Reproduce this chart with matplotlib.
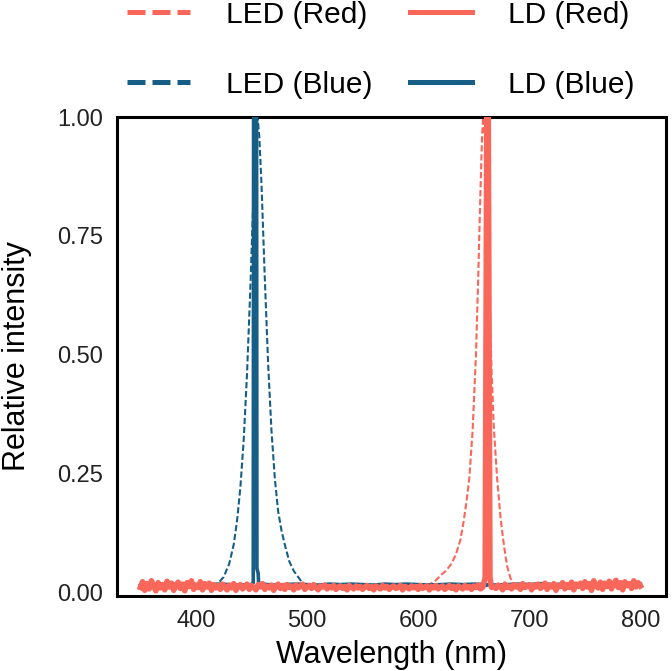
import numpy as np
import matplotlib
matplotlib.use("Agg")
import matplotlib.pyplot as plt
from matplotlib.lines import Line2D

RED = "#F9675A"
BLUE = "#165E86"

# ---------------- data ----------------
led_blue_wl = [350, 370, 390, 410, 415, 420, 425, 430, 434, 437, 440, 443, 446, 449, 452, 454,
               455.5, 457, 459, 462, 465, 468, 471, 474, 477, 480, 484, 488, 492, 496, 500,
               520, 560, 600, 640, 680, 720, 760, 800]
led_blue_int = [0.012, 0.012, 0.012, 0.012, 0.013, 0.019, 0.032, 0.06, 0.10, 0.15, 0.22, 0.32,
                0.46, 0.64, 0.85, 0.96, 1.0, 0.96, 0.86, 0.66, 0.48, 0.34, 0.24, 0.17, 0.13,
                0.10, 0.065, 0.045, 0.032, 0.019, 0.014, 0.013, 0.013, 0.013, 0.013, 0.013,
                0.013, 0.013, 0.013]

led_red_wl = [350, 400, 450, 500, 550, 600, 610, 616, 620, 625, 630, 634, 638, 641, 644, 646,
              649, 652, 654, 656, 657.5, 658.5, 660, 662, 664, 666, 668, 671, 674, 676, 678,
              680, 683, 686, 690, 700, 750, 800]
led_red_int = [0.012, 0.012, 0.012, 0.012, 0.012, 0.013, 0.016, 0.025, 0.035, 0.045, 0.06, 0.08,
               0.11, 0.15, 0.20, 0.24, 0.34, 0.50, 0.66, 0.84, 0.96, 1.0, 0.96, 0.82, 0.64,
               0.47, 0.35, 0.24, 0.16, 0.12, 0.085, 0.055, 0.03, 0.016, 0.013, 0.013, 0.013,
               0.013]

# LD (Blue): baseline every 10 nm + narrow peak
ld_blue_base_wl = list(range(350, 801, 10))
ld_blue_base_int = [0.014, 0.016, 0.015, 0.017, 0.015, 0.016, 0.014, 0.017, 0.016, 0.015,
                    0.016, 0.017, 0.015, 0.016, 0.017, 0.016, 0.015, 0.017, 0.016, 0.017,
                    0.016, 0.015, 0.017, 0.016, 0.017, 0.016, 0.015, 0.016, 0.017, 0.016,
                    0.017, 0.016, 0.015, 0.016, 0.017, 0.016, 0.018, 0.016, 0.017, 0.015,
                    0.016, 0.018, 0.016, 0.017, 0.016, 0.017]
ld_blue_peak_wl = [450.0, 451.6, 451.9, 454.6, 454.9, 456.0, 456.5]
ld_blue_peak_int = [0.016, 0.02, 1.05, 1.05, 0.05, 0.04, 0.016]

# LD (Red): noisy baseline every 2 nm + narrow peak
ld_red_base_wl = list(range(350, 801, 2))
ld_red_base_int = [
    0.010, 0.022, 0.004, 0.018, 0.007, 0.024, 0.012, 0.003, 0.020, 0.009,
    0.016, 0.005, 0.023, 0.011, 0.019, 0.004, 0.014, 0.021, 0.008, 0.017,
    0.003, 0.020, 0.012, 0.024, 0.006, 0.015, 0.010, 0.022, 0.005, 0.018,
    0.011, 0.019, 0.004, 0.016, 0.009, 0.014, 0.006, 0.017, 0.011, 0.005,
    0.015, 0.009, 0.018, 0.004, 0.013, 0.016, 0.007, 0.012, 0.017, 0.006,
    0.014, 0.010, 0.005, 0.016, 0.011, 0.018, 0.006, 0.013, 0.009, 0.015,
    0.004, 0.012, 0.017, 0.008, 0.014, 0.006, 0.016, 0.010, 0.013, 0.005,
    0.015, 0.009, 0.012, 0.017, 0.006, 0.011, 0.014, 0.008, 0.016, 0.010,
    0.005, 0.013, 0.011, 0.015, 0.007, 0.012, 0.009, 0.014, 0.006, 0.011,
    0.013, 0.008, 0.012, 0.005, 0.014, 0.010, 0.007, 0.013, 0.009, 0.012,
    0.006, 0.011, 0.014, 0.008, 0.012, 0.005, 0.013, 0.010, 0.007, 0.014,
    0.009, 0.012, 0.006, 0.011, 0.013, 0.008, 0.010, 0.014, 0.005, 0.012,
    0.010, 0.007, 0.013, 0.009, 0.012, 0.006, 0.014, 0.008, 0.011, 0.013,
    0.005, 0.012, 0.009, 0.014, 0.007, 0.011, 0.013, 0.006, 0.010, 0.014,
    0.008, 0.012, 0.005, 0.013, 0.010, 0.007, 0.014, 0.009, 0.012, 0.006,
    0.013, 0.010, 0.015, 0.007, 0.012, 0.009, 0.014, 0.006, 0.016, 0.011,
    0.008, 0.015, 0.012, 0.005, 0.017, 0.010, 0.013, 0.007, 0.016, 0.011,
    0.014, 0.006, 0.018, 0.010, 0.012, 0.016, 0.005, 0.015, 0.011, 0.017,
    0.008, 0.013, 0.019, 0.006, 0.015, 0.011, 0.018, 0.004, 0.014, 0.012,
    0.020, 0.007, 0.016, 0.010, 0.021, 0.005, 0.017, 0.012, 0.019, 0.008,
    0.022, 0.011, 0.018, 0.004, 0.024, 0.013, 0.009, 0.021, 0.006, 0.019,
    0.012, 0.023, 0.007, 0.017, 0.025, 0.010, 0.020, 0.005, 0.022, 0.014,
    0.018, 0.008, 0.024, 0.011, 0.020, 0.013]
ld_red_peak_wl = [658.0, 660.3, 661.8, 663.0, 664.6, 666.0]
ld_red_peak_int = [0.010, 0.030, 1.05, 1.05, 0.030, 0.010]

x_ticks = [400, 500, 600, 700, 800]
y_ticks = [0.0, 0.25, 0.5, 0.75, 1.0]
y_tick_labels = ["0.00", "0.25", "0.50", "0.75", "1.00"]
labels = ["LED (Red)", "LED (Blue)", "LD (Red)", "LD (Blue)"]


def merge(base_wl, base_int, peak_wl, peak_int):
    lo, hi = min(peak_wl), max(peak_wl)
    pts = [(w, v) for w, v in zip(base_wl, base_int) if w < lo or w > hi]
    pts += list(zip(peak_wl, peak_int))
    pts.sort()
    return [p[0] for p in pts], [p[1] for p in pts]


ldb_wl, ldb_int = merge(ld_blue_base_wl, ld_blue_base_int, ld_blue_peak_wl, ld_blue_peak_int)
ldr_wl, ldr_int = merge(ld_red_base_wl, ld_red_base_int, ld_red_peak_wl, ld_red_peak_int)

# ---------------- figure ----------------
plt.rcParams['font.family'] = ['Liberation Sans', 'DejaVu Sans']
fig = plt.figure(figsize=(6.72, 6.71), dpi=100)
ax = fig.add_axes([117 / 672, 1 - 596 / 671, (666 - 117) / 672, (596 - 117) / 671])

ax.plot(led_blue_wl, led_blue_int, color=BLUE, lw=1.5, dashes=(3, 1.3), zorder=2)
ax.plot(led_red_wl, led_red_int, color=RED, lw=1.5, dashes=(3, 1.3), zorder=2)
ax.plot(ldb_wl, ldb_int, color=BLUE, lw=2.6, zorder=3, solid_joinstyle='round')
ax.plot(ldr_wl, ldr_int, color=RED, lw=4.0, zorder=4, solid_joinstyle='round')

ax.set_xlim(329, 823)
ax.set_ylim(-0.008, 1.0)
ax.set_xticks(x_ticks)
ax.set_yticks(y_ticks)
ax.set_yticklabels(y_tick_labels)
ax.tick_params(length=0, labelsize=17, pad=10, colors="#222222")
for s in ax.spines.values():
    s.set_linewidth(2.2)
    s.set_color("black")
ax.set_xlabel("Wavelength (nm)", fontsize=22, labelpad=6)
ax.set_ylabel("Relative intensity", fontsize=22, labelpad=18)

handles = [
    Line2D([], [], color=RED, lw=3.6, dashes=(3.6, 1.4)),
    Line2D([], [], color=BLUE, lw=3.6, dashes=(3.6, 1.4)),
    Line2D([], [], color=RED, lw=3.6),
    Line2D([], [], color=BLUE, lw=3.6),
]
fig.legend(handles, labels, ncol=2, loc='center', bbox_to_anchor=(0.567, 0.926),
           frameon=False, fontsize=21.5, handlelength=2.1, handletextpad=1.2,
           columnspacing=1.25, labelspacing=1.4, borderpad=0)

fig.savefig("out.png", dpi=100)
